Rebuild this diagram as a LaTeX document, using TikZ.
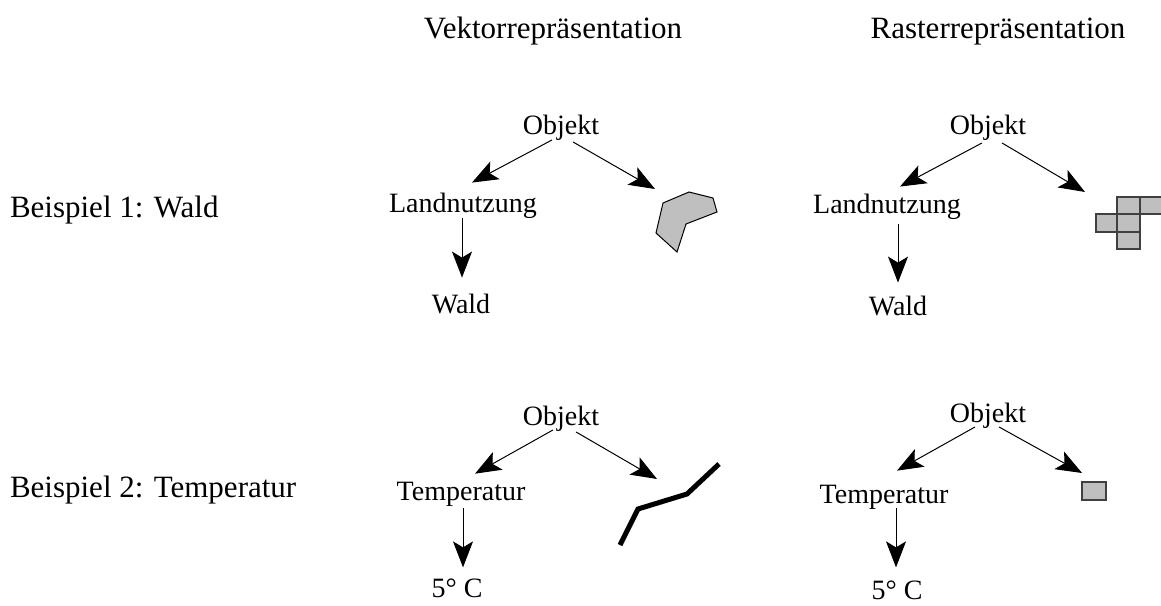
\documentclass[tikz,border=0pt]{standalone}
\usepackage{fontspec}
\setmainfont{Liberation Serif}
\usetikzlibrary{arrows.meta,calc}
\tikzset{
  lbl/.style={anchor=base,inner sep=0pt,outer sep=0pt,font=\fontsize{28}{34}\selectfont},
  head/.style={anchor=base,inner sep=0pt,outer sep=0pt,font=\fontsize{31}{37}\selectfont},
  conn/.style={line width=1pt,-{Stealth[length=26pt,width=20pt,inset=6pt]}},
  area/.style={draw=black,line width=1pt,fill=black!25,line join=miter},
  cell/.style={draw=black!75,line width=1.5pt,fill=black!25},
  curve/.style={line width=5pt,line join=miter}
}
\begin{document}
\begin{tikzpicture}[x=1pt,y=-1pt]
\useasboundingbox (0,0) rectangle (1161,605);
% headings
\node[head] (hv) at (553,38) {Vektorrepräsentation};
\node[head] (hr) at (998,38) {Rasterrepräsentation};
\node[head,anchor=base west] (b1) at (10,217) {Beispiel 1: Wald};
\node[head,anchor=base west] (b2) at (10,497) {Beispiel 2: Temperatur};

% ---- Vector, example 1
\node[lbl] (o1) at (561,134) {Objekt};
\node[lbl] (l1) at (463,212) {Landnutzung};
\node[lbl] (w1) at (461,313) {Wald};
\coordinate (p1) at (655,189);
\draw[area] (663,203) -- (689,192) -- (713,198) -- (717,212) -- (686,224) -- (677,252) -- (656,233) -- cycle;
\draw[conn] ($(o1.south)+(-9,0)$) -- ($(l1.north)+(9,-10)$);
\draw[conn] ($(o1.south)+(12,2)$) -- (p1);
\draw[conn] ($(l1.south)+(-1,0)$) -- ($(w1.north)+(1,-16)$);

% ---- Raster, example 1
\node[lbl] (o2) at (988,134) {Objekt};
\node[lbl] (l2) at (887,213) {Landnutzung};
\node[lbl] (w2) at (898,315) {Wald};
\coordinate (p2) at (1085,192);
\draw[cell] (1117,197) rectangle (1140,214);
\draw[cell] (1140,197) rectangle (1163,214);
\draw[cell] (1096,214) rectangle (1117,232);
\draw[cell] (1117,214) rectangle (1140,232);
\draw[cell] (1117,232) rectangle (1140,249);
\draw[conn] ($(o2.south)+(-6,3)$) -- ($(l2.north)+(13,-7)$);
\draw[conn] ($(o2.south)+(14,3)$) -- (p2);
\draw[conn] ($(l2.south)+(11,5)$) -- ($(w2.north)+(0,-13)$);

% ---- Vector, example 2
\node[lbl] (o3) at (561,425) {Objekt};
\node[lbl] (t1) at (461,500) {Temperatur};
\node[lbl] (c1) at (457,597) {5° C};
\coordinate (p3) at (657,479);
\draw[curve] (620,545) -- (638,509) -- (687,494) -- (719,464);
\draw[conn] ($(o3.south)+(-8,-1)$) -- ($(t1.north)+(14,-8)$);
\draw[conn] ($(o3.south)+(15,1)$) -- (p3);
\draw[conn] ($(t1.south)+(2,2)$) -- ($(c1.north)+(6,-11)$);

% ---- Raster, example 2
\node[lbl] (o4) at (988,422) {Objekt};
\node[lbl] (t2) at (884,503) {Temperatur};
\node[lbl] (c2) at (897,599) {5° C};
\coordinate (p4) at (1082,473);
\draw[cell] (1082,482) rectangle (1106,500);
\draw[conn] ($(o4.south)+(-13,-1)$) -- ($(t2.north)+(13,-14)$);
\draw[conn] ($(o4.south)+(11,-1)$) -- (p4);
\draw[conn] ($(t2.south)+(12,-1)$) -- ($(c2.north)+(-1,-13)$);
\end{tikzpicture}
\end{document}
